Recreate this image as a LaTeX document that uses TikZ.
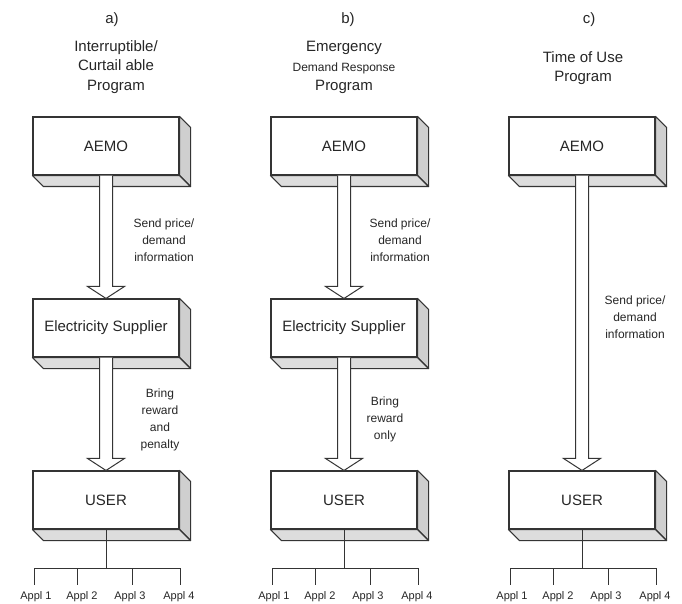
\documentclass[tikz,border=0pt]{standalone}
\usepackage{fontspec}
\setmainfont{Liberation Sans}
\usetikzlibrary{calc}
\definecolor{ink}{HTML}{343434}
\definecolor{txt}{HTML}{262626}
\definecolor{sidegray}{HTML}{CFCFCF}
\definecolor{botgray}{HTML}{DDDDDD}
\tikzset{
  box/.style={draw=ink, line width=1.1pt, fill=white, minimum width=146pt, minimum height=58pt, inner sep=0pt, font=\fontsize{15}{18}\selectfont, text=txt},
  sideface/.style={draw=ink, line width=1.1pt, fill=sidegray, line join=round},
  botface/.style={draw=ink, line width=1.1pt, fill=botgray, line join=round},
  blockarr/.style={draw=ink, line width=1pt, fill=white, line join=miter},
  tree/.style={draw=ink, line width=1pt},
  lab/.style={align=center, inner sep=0pt, text=txt, font=\fontsize{12}{17}\selectfont},
  title/.style={align=center, inner sep=0pt, text=txt, font=\fontsize{15}{19.5}\selectfont},
  appl/.style={inner sep=0pt, text=txt, font=\fontsize{11}{13}\selectfont}
}
\newcommand\depthfaces[1]{%
  \path[sideface] (#1.north east) -- ++(11,11) -- ($(#1.south east)+(11,11)$) -- (#1.south east) -- cycle;
  \path[botface] (#1.south west) -- (#1.south east) -- ++(11,11) -- ($(#1.south west)+(11,11)$) -- cycle;}
\newcommand\blockarrow[2]{%
  \path[blockarr] let \p1=(#1.south), \p2=(#2.north) in
    (\x1-6.5pt,\y1) -- (\x1-6.5pt,\y2+12pt) -- (\x1-18.5pt,\y2+12pt) -- (\x1,\y2)
    -- (\x1+18.5pt,\y2+12pt) -- (\x1+6.5pt,\y2+12pt) -- (\x1+6.5pt,\y1);}
\newcommand\appltree[2]{%
  \coordinate (#1j) at (#2,568);
  \coordinate (#1h1) at (#2-72,568);
  \coordinate (#1h2) at (#2-29,568);
  \coordinate (#1h3) at (#2+26,568);
  \coordinate (#1h4) at (#2+74,568);
  \coordinate (#1t1) at (#2-72,585);
  \coordinate (#1t2) at (#2-29,585);
  \coordinate (#1t3) at (#2+26,585);
  \coordinate (#1t4) at (#2+74,585);
  \path[tree] (#1u.south) -- (#1j);
  \path[tree] (#1h1) -- (#1h4);
  \path[tree] (#1h1) -- (#1t1);
  \path[tree] (#1h2) -- (#1t2);
  \path[tree] (#1h3) -- (#1t3);
  \path[tree] (#1h4) -- (#1t4);
  \node[appl] (#1l1) at (#2-70,597) {Appl 1};
  \node[appl] (#1l2) at (#2-24,597) {Appl 2};
  \node[appl] (#1l3) at (#2+24,597) {Appl 3};
  \node[appl] (#1l4) at (#2+73,597) {Appl 4};}
\begin{document}
\begin{tikzpicture}[x=1pt,y=-1pt]
\useasboundingbox (0,0) rectangle (682,604);
\fill[white] (0,0) rectangle (682,604);

% ---------- column a ----------
\node[title] (at0) at (112,20) {a)};
\node[title] (at1) at (116,67) {Interruptible/\\Curtail able\\Program};
\node[box] (aa) at (106,146) {AEMO};
\node[box] (as) at (106,328) {Electricity Supplier};
\node[box] (au) at (106,500) {USER};
\depthfaces{aa}
\depthfaces{as}
\depthfaces{au}
\blockarrow{aa}{as}
\blockarrow{as}{au}
\node[lab] (al1) at (164,240) {Send price/\\demand\\information};
\node[lab] (al2) at (160,420) {Bring\\reward\\and\\penalty};
\appltree{a}{106}

% ---------- column b ----------
\node[title] (bt0) at (348,20) {b)};
\node[title] (bt1) at (344,67.5) {Emergency\\{\fontsize{12}{19.5}\selectfont Demand Response}\\Program};
\node[box] (ba) at (344,146) {AEMO};
\node[box] (bs) at (344,328) {Electricity Supplier};
\node[box] (bu) at (344,500) {USER};
\depthfaces{ba}
\depthfaces{bs}
\depthfaces{bu}
\blockarrow{ba}{bs}
\blockarrow{bs}{bu}
\node[lab] (bl1) at (400,240) {Send price/\\demand\\information};
\node[lab] (bl2) at (385,419) {Bring\\reward\\only};
\appltree{b}{344}

% ---------- column c ----------
\node[title] (ct0) at (589,20) {c)};
\node[title] (ct1) at (583,68) {Time of Use\\Program};
\node[box] (ca) at (582,146) {AEMO};
\node[box] (cu) at (582,500) {USER};
\depthfaces{ca}
\depthfaces{cu}
\blockarrow{ca}{cu}
\node[lab] (cl1) at (635,317) {Send price/\\demand\\information};
\appltree{c}{582}
\end{tikzpicture}
\end{document}
